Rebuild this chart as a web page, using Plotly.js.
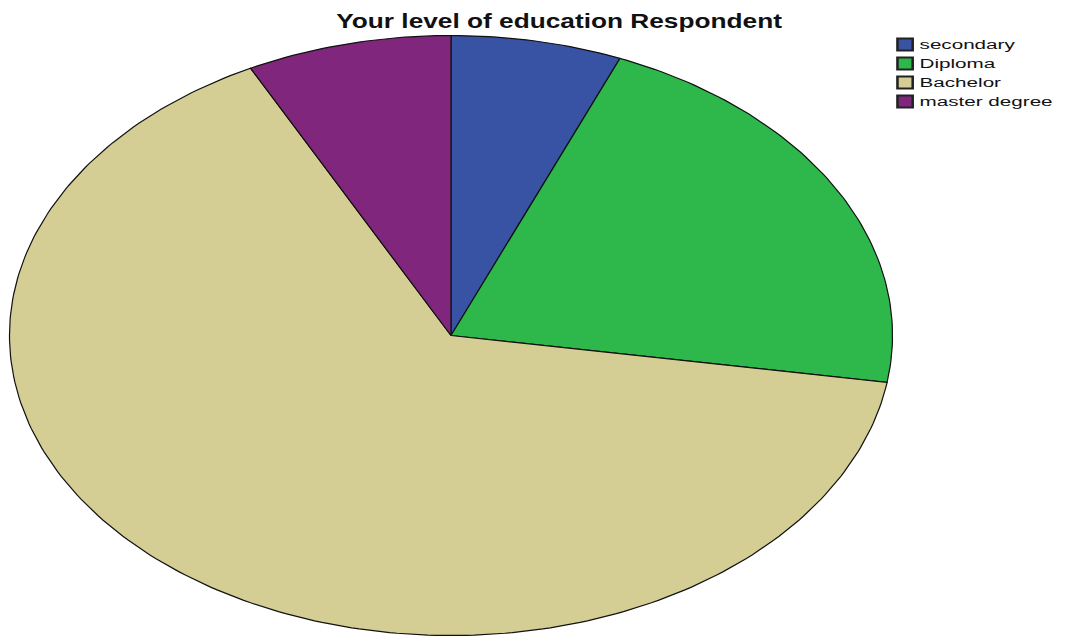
<!DOCTYPE html>
<html>
<head>
<meta charset="utf-8">
<script src="https://cdn.plot.ly/plotly-3.0.1.min.js"></script>
<style>html,body{margin:0;padding:0;background:#fff;}#chart{width:1067px;height:636px;}</style>
</head>
<body>
<div id="chart"></div>
<script>
// Data (respondent counts)
const categories = ["secondary", "Diploma", "Bachelor", "master degree"];
const counts = [5, 17, 52, 6];
const colors = ["#3953a4", "#2eb84b", "#d4ce94", "#80267d"];
const titleText = "Your level of education Respondent";

// Build elliptical pie slices (clockwise from 12 o'clock) in data space
const total = counts.reduce((a, b) => a + b, 0);
const traces = [];
let cum = 0;
counts.forEach((c, i) => {
  const a0 = cum / total * 2 * Math.PI;
  cum += c;
  const a1 = cum / total * 2 * Math.PI;
  const n = Math.max(8, Math.ceil((a1 - a0) / (Math.PI / 180)));
  const xs = [0], ys = [0];
  for (let k = 0; k <= n; k++) {
    const a = a0 + (a1 - a0) * k / n;
    xs.push(Math.sin(a));
    ys.push(Math.cos(a));
  }
  xs.push(0); ys.push(0);
  traces.push({
    type: "scatter", mode: "lines", x: xs, y: ys, fill: "toself",
    fillcolor: colors[i], line: {color: "#111", width: 1.2},
    hoverinfo: "text", text: categories[i] + ": " + c, showlegend: false
  });
});
// Legend entries
categories.forEach((name, i) => {
  traces.push({
    type: "scatter", mode: "markers", x: [null], y: [null], name: name,
    marker: {symbol: "square", size: 15, color: colors[i], line: {color: "#222", width: 1}}
  });
});

const layout = {
  width: 1067, height: 636,
  margin: {l: 0, r: 0, t: 0, b: 0},
  paper_bgcolor: "#fff", plot_bgcolor: "#fff",
  title: {text: "<b>" + titleText + "</b>", x: 0.524, xanchor: "center", y: 0.968, yanchor: "middle",
          font: {family: "Liberation Sans, Arial, sans-serif", size: 21, color: "#111"}},
  xaxis: {range: [-1.0215, 1.3952], visible: false, fixedrange: true},
  yaxis: {range: [-1.0017, 1.1183], visible: false, fixedrange: true},
  showlegend: true,
  legend: {x: 0.8295, y: 0.953, xanchor: "left", yanchor: "top", bgcolor: "rgba(0,0,0,0)",
           font: {family: "Liberation Sans, Arial, sans-serif", size: 12, color: "#111"},
           tracegroupgap: 0, itemsizing: "constant"}
};
Plotly.newPlot("chart", traces, layout, {displayModeBar: false, staticPlot: true}).then(gd => {
  // The reference image is stretched horizontally; widen the text to match.
  const t = gd.querySelector(".g-gtitle text");
  if (t) {
    const b = t.getBBox();
    const cx = b.x + b.width / 2;
    t.setAttribute("transform", `translate(${cx},0) scale(1.25,1) translate(${-cx},0)`);
  }
  gd.querySelectorAll(".legend [clip-path]").forEach(el => el.removeAttribute("clip-path"));
  const lg = gd.querySelector(".legend");
  if (lg) lg.removeAttribute("clip-path");
  gd.querySelectorAll(".legend .legendtext").forEach(el => {
    const x0 = parseFloat(el.getAttribute("x")) || 40;
    el.setAttribute("transform", `translate(${x0 - 5.5},0) scale(1.72,1) translate(${-x0},0)`);
  });
  gd.querySelectorAll(".legend .legendpoints path").forEach(el => {
    const tr = el.getAttribute("transform") || "";
    el.setAttribute("transform", tr + " scale(1.27,1)");
  });
});
</script>
</body>
</html>
